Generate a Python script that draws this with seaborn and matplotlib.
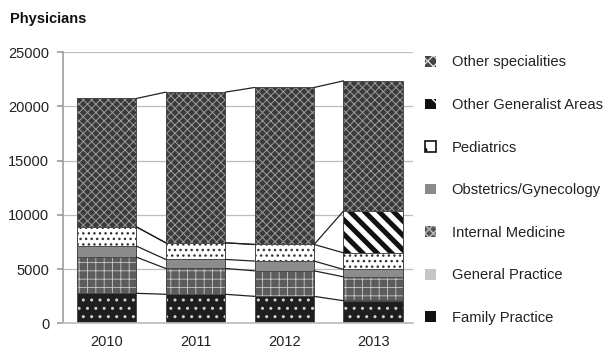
import matplotlib
matplotlib.use("Agg")
import matplotlib.pyplot as plt
from matplotlib.patches import Patch, Rectangle
import numpy as np
import pandas as pd
import seaborn as sns

years = ["2010", "2011", "2012", "2013"]
family_practice = [2780, 2690, 2500, 2100]
general_practice = [40, 40, 40, 40]
internal_medicine = [3290, 2340, 2310, 2160]
obstetrics_gynecology = [1020, 830, 900, 680]
pediatrics = [1770, 1530, 1530, 1530]
other_generalist = [0, 0, 0, 3840]
other_specialities = [11830, 13880, 14460, 12000]

series_names = ["Family Practice", "General Practice", "Internal Medicine",
                "Obstetrics/Gynecology", "Pediatrics", "Other Generalist Areas",
                "Other specialities"]
series_values = [family_practice, general_practice, internal_medicine,
                 obstetrics_gynecology, pediatrics, other_generalist,
                 other_specialities]

# style: face, hatch, hatch colour, hatch linewidth
styles = {
    "Family Practice": ("#1e1e1e", "..", "#d0d0d0", 1.0),
    "General Practice": ("#c6c6c6", "", "#c6c6c6", 0.5),
    "Internal Medicine": ("#5c5c5c", "++", "#c8c8c8", 0.6),
    "Obstetrics/Gynecology": ("#8c8c8c", "", "#8c8c8c", 0.5),
    "Pediatrics": ("#ffffff", "...", "#333333", 1.0),
    "Other Generalist Areas": ("#ffffff", "", "#ffffff", 0.5),
    "Other specialities": ("#3a3a3a", "xxxx", "#9c9c9c", 0.7),
}
# legend icon styles: face, hatch, hatch/edge colour, edge width
legend_styles = {
    "Family Practice": ("#111111", "", "#111111", 0),
    "General Practice": ("#c6c6c6", "", "#c6c6c6", 0),
    "Internal Medicine": ("#555555", "xxxx", "#bbbbbb", 0),
    "Obstetrics/Gynecology": ("#8a8a8a", "", "#8a8a8a", 0),
    "Pediatrics": ("#ffffff", ".", "#111111", 1.2),
    "Other Generalist Areas": ("#111111", "\\", "#ffffff", 0),
    "Other specialities": ("#444444", "xxx", "#dddddd", 0),
}

sns.set_theme(style="white")
plt.rcParams["font.family"] = ["Liberation Sans", "DejaVu Sans"]

fig = plt.figure(figsize=(6.13, 3.52), dpi=100)
ax = fig.add_axes([0.103, 0.081, 0.571, 0.771])

cum = np.cumsum(np.array(series_values, dtype=float), axis=0)
bar_w = 0.67

def style_patch(p, name):
    face, hatch, hc, hlw = styles[name]
    p.set_facecolor(face)
    p.set_edgecolor(hc)
    p.set_linewidth(0)
    if hatch:
        p.set_hatch(hatch)
        if hasattr(p, "set_hatch_linewidth"):
            p.set_hatch_linewidth(hlw)

# axes pixel size for 45-degree stripes
ax_w_px = 0.571 * 613
ax_h_px = 0.771 * 352

# draw from the top layer down so lower layers overlay
for k in range(len(series_names) - 1, -1, -1):
    name = series_names[k]
    df = pd.DataFrame({"year": years, "value": cum[k]})
    n0 = len(ax.patches)
    sns.barplot(data=df, x="year", y="value", order=years, ax=ax,
                width=bar_w, errorbar=None, color="white")
    new = list(ax.patches[n0:])
    for idx, p in enumerate(new):
        style_patch(p, name)
        if name == "Other Generalist Areas" and series_values[k][idx] > 0:
            # diagonal stripes clipped to this segment only
            seg = Rectangle((p.get_x(), cum[k - 1][idx]), p.get_width(),
                            series_values[k][idx])
            seg.set_transform(ax.transData)
            step = 14.5 / ax_w_px
            slope = ax_w_px / ax_h_px
            for c in np.arange(-1.5, 2.5, step):
                xs = np.array([c, c + 1.0])
                ys = 1.0 - (xs - c) * slope
                ln, = ax.plot(xs, ys, transform=ax.transAxes, color="#111111",
                              linewidth=3.6, solid_capstyle="butt",
                              zorder=p.get_zorder() + 0.01)
                ln.set_clip_path(seg)
        if p.get_height() > 0:
            ax.add_patch(Rectangle(p.get_xy(), p.get_width(), p.get_height(),
                                   fill=False, edgecolor="#4a4a4a", linewidth=0.7,
                                   zorder=p.get_zorder() + 0.02))

# series lines connecting bars
for k in range(len(series_names)):
    if k == 1:
        continue
    for i in range(len(years) - 1):
        ax.plot([i + bar_w / 2, i + 1 - bar_w / 2], [cum[k][i], cum[k][i + 1]],
                color="#222222", linewidth=0.9, zorder=5)

ax.set_ylim(0, 25000)
ax.set_xlim(-0.49, 3.45)
ax.set_yticks(range(0, 25001, 5000))
ax.set_yticklabels([str(v) for v in range(0, 25001, 5000)], fontsize=10.5, color="#222222")
ax.set_xticks(range(4))
ax.set_xticklabels(years, fontsize=10.5, color="#222222")
ax.set_xlabel("")
ax.set_ylabel("")
ax.yaxis.grid(True, color="#bdbdbd", linewidth=0.9)
ax.set_axisbelow(True)
for s in ["top", "right"]:
    ax.spines[s].set_visible(False)
ax.spines["left"].set_color("#a0a0a0")
ax.spines["bottom"].set_color("#bdbdbd")
ax.tick_params(axis="y", which="both", left=True, length=4, color="#a0a0a0", pad=6)
ax.tick_params(axis="x", length=0, pad=8)

fig.text(0.016, 0.935, "Physicians", fontsize=10.5, fontweight="bold", color="#111111")

handles = []
for name in reversed(series_names):
    face, hatch, hc, elw = legend_styles[name]
    h = Patch(facecolor=face, edgecolor=hc, hatch=hatch, linewidth=elw, label=name)
    handles.append(h)
leg = fig.legend(handles=handles, loc="upper left", bbox_to_anchor=(0.672, 0.88),
                 frameon=False, fontsize=10.6, labelspacing=1.94,
                 handlelength=0.75, handleheight=0.75, handletextpad=1.05,
                 labelcolor="#222222")

fig.savefig("out.png", dpi=100)
